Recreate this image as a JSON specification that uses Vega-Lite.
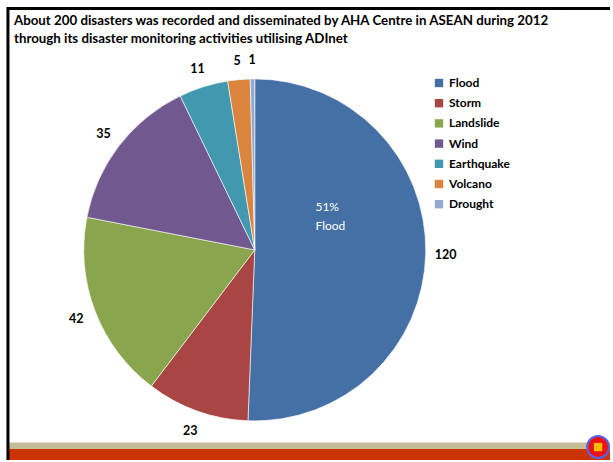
{
  "$schema": "https://vega.github.io/schema/vega-lite/v6.json",
  "width": 613,
  "height": 462,
  "padding": 0,
  "autosize": {"type": "fit", "contains": "padding"},
  "background": "white",
  "config": {"view": {"stroke": null}, "font": "Lato"},
  "datasets": {
    "pie": [
      {"category": "Flood", "value": 120, "order": 1},
      {"category": "Storm", "value": 23, "order": 2},
      {"category": "Landslide", "value": 42, "order": 3},
      {"category": "Wind", "value": 35, "order": 4},
      {"category": "Earthquake", "value": 11, "order": 5},
      {"category": "Volcano", "value": 5, "order": 6},
      {"category": "Drought", "value": 1, "order": 7}
    ],
    "title": [
      {"line": "About 200 disasters was recorded and disseminated by AHA Centre in ASEAN during 2012", "row": 1},
      {"line": "through its disaster monitoring activities  utilising ADInet", "row": 2}
    ],
    "inner": [{"label": "51%\nFlood"}],
    "one": [{"k": 1}]
  },
  "layer": [
    {
      "data": {"name": "one"},
      "mark": {"type": "rect", "color": "#c4bd97"},
      "encoding": {
        "x": {"datum": 9, "type": "quantitative", "scale": {"domain": [0, 613], "nice": false, "zero": false}, "axis": null},
        "x2": {"datum": 613},
        "y": {"datum": 444.5, "type": "quantitative", "scale": {"domain": [0, 462], "nice": false, "zero": false, "reverse": true}, "axis": null},
        "y2": {"datum": 451}
      }
    },
    {
      "data": {"name": "one"},
      "mark": {"type": "rect", "color": "#cc3300"},
      "encoding": {
        "x": {"datum": 9, "type": "quantitative"},
        "x2": {"datum": 613},
        "y": {"datum": 451, "type": "quantitative"},
        "y2": {"datum": 462}
      }
    },
    {
      "data": {"name": "one"},
      "mark": {"type": "rule", "color": "black", "strokeWidth": 3},
      "encoding": {
        "x": {"datum": 8, "type": "quantitative"},
        "y": {"datum": 7, "type": "quantitative"},
        "y2": {"datum": 462}
      }
    },
    {
      "data": {"name": "one"},
      "mark": {"type": "rule", "color": "black", "strokeWidth": 3},
      "encoding": {
        "x": {"datum": 7, "type": "quantitative"},
        "x2": {"datum": 613},
        "y": {"datum": 8.5, "type": "quantitative"}
      }
    },
    {
      "data": {"name": "one"},
      "mark": {"type": "point", "filled": true, "fill": "#ee1111", "stroke": "#5566ee", "strokeWidth": 2, "size": 480, "opacity": 1},
      "encoding": {
        "x": {"datum": 601, "type": "quantitative"},
        "y": {"datum": 449, "type": "quantitative"}
      }
    },
    {
      "data": {"name": "one"},
      "mark": {"type": "point", "shape": "square", "filled": true, "fill": "#ffbb00", "size": 70, "opacity": 1},
      "encoding": {
        "x": {"datum": 601, "type": "quantitative"},
        "y": {"datum": 449, "type": "quantitative"}
      }
    },
    {
      "data": {"name": "title"},
      "transform": [{"filter": "datum.row == 1"}],
      "mark": {"type": "text", "align": "left", "baseline": "middle", "fontWeight": "bold", "fontSize": 13.3, "font": "Lato", "color": "black"},
      "encoding": {
        "x": {"datum": 14, "type": "quantitative"},
        "y": {"datum": 21, "type": "quantitative"},
        "text": {"field": "line"}
      }
    },
    {
      "data": {"name": "title"},
      "transform": [{"filter": "datum.row == 2"}],
      "mark": {"type": "text", "align": "left", "baseline": "middle", "fontWeight": "bold", "fontSize": 13.3, "font": "Lato", "color": "black"},
      "encoding": {
        "x": {"datum": 14, "type": "quantitative"},
        "y": {"datum": 39, "type": "quantitative"},
        "text": {"field": "line"}
      }
    },
    {
      "data": {"name": "pie"},
      "mark": {"type": "arc", "outerRadius": 171, "stroke": "white", "strokeWidth": 0.6},
      "encoding": {
        "x": {"datum": 256, "type": "quantitative"},
        "y": {"datum": 251, "type": "quantitative"},
        "theta": {"field": "value", "type": "quantitative", "stack": true},
        "order": {"field": "order", "type": "quantitative"},
        "color": {
          "field": "category",
          "type": "nominal",
          "scale": {
            "domain": ["Flood", "Storm", "Landslide", "Wind", "Earthquake", "Volcano", "Drought"],
            "range": ["#4470a6", "#a94543", "#89a54e", "#71588f", "#4198af", "#db843d", "#93a9cf"]
          },
          "legend": {
            "orient": "none",
            "legendX": 433,
            "legendY": 77,
            "title": null,
            "symbolType": "square",
            "symbolSize": 70,
            "symbolStrokeWidth": 0,
            "labelFontSize": 12,
            "labelFont": "Lato",
            "labelFontWeight": "bold",
            "labelColor": "black",
            "rowPadding": 8.2,
            "labelOffset": 4
          }
        }
      }
    },
    {
      "data": {"name": "pie"},
      "mark": {"type": "text", "radius": 191, "fontWeight": "bold", "fontSize": 12.5, "font": "Lato", "color": "black"},
      "encoding": {
        "x": {"datum": 256, "type": "quantitative"},
        "y": {"datum": 252, "type": "quantitative"},
        "theta": {"field": "value", "type": "quantitative", "stack": true},
        "order": {"field": "order", "type": "quantitative"},
        "detail": {"field": "category", "type": "nominal"},
        "text": {"field": "value", "type": "quantitative"}
      }
    },
    {
      "data": {"name": "inner"},
      "mark": {"type": "text", "align": "left", "baseline": "middle", "fontSize": 12, "font": "Lato", "color": "white", "lineBreak": "\n", "lineHeight": 18.5},
      "encoding": {
        "x": {"datum": 317, "type": "quantitative"},
        "y": {"datum": 208, "type": "quantitative"},
        "text": {"field": "label"}
      }
    }
  ]
}
